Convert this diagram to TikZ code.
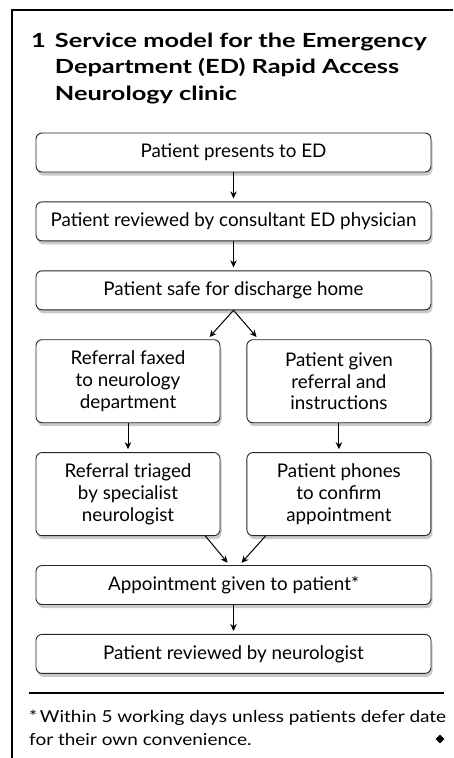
\documentclass[tikz,border=0pt]{standalone}
\usepackage{fontspec}
\setmainfont{Lato}
\newfontfamily\titelfont[FakeStretch=1.3]{Lato}
\newfontfamily\notefont[FakeStretch=1.15]{Lato}
\usetikzlibrary{positioning,shadows,arrows.meta,shapes.geometric}

\begin{document}
\begin{tikzpicture}[x=1pt, y=-1pt, node distance=29pt, font=\fontsize{18.8}{21.7}\selectfont]

\tikzstyle{boks}=[rectangle, rounded corners=6pt, draw=black!85, line width=0.9pt, fill=white, minimum width=395pt, minimum height=39pt, text centered, drop shadow={shadow xshift=1.5pt, shadow yshift=-3.5pt, opacity=0.3, fill=black!70}]
\tikzstyle{halvboks}=[boks, minimum width=184pt, minimum height=83pt, align=center]
\tikzstyle{pil}=[-{Stealth[length=7pt, width=6.5pt]}, line width=1pt, shorten >=3pt]
\tikzstyle{kant}=[line width=2pt]

\useasboundingbox (0,0) rectangle (453,758);

%frame
\draw[kant] (12,758) -- (12,10) -- (453,10);

\node[anchor=base west, inner sep=0pt, font=\titelfont\fontsize{19.5}{26.5}\bfseries\selectfont] (tittel) at (31,47)
  {\begin{tabular}[t]{@{}l@{\hspace{9pt}}l@{}}
   1 & Service model for the Emergency\\
     & Department (ED) Rapid Access\\
     & Neurology clinic
   \end{tabular}};

\node[boks] (presents) at (233.5,152.5) {Patient presents to ED};
\node[boks, below=of presents] (consult) {Patient reviewed by consultant ED physician};
\node[boks, below=of consult] (discharge) {Patient safe for discharge home};

\node[halvboks, below=of discharge.south west, anchor=north west] (faxed) {Referral faxed\\to neurology\\department};
\node[halvboks, right=26pt of faxed] (given) {Patient given\\referral and\\instructions};
\node[halvboks, below=of faxed] (triaged) {Referral triaged\\by specialist\\neurologist};
\node[halvboks, below=of given] (phones) {Patient phones\\to confirm\\appointment};

\node[boks, below=of triaged.south west, anchor=north west] (appoint) {Appointment given to patient*};
\node[boks, below=of appoint] (neuro) {Patient reviewed by neurologist};

\draw[pil] (presents) -- (consult);
\draw[pil] (consult) -- (discharge);
\draw[pil] (discharge.south) -- ([xshift=-26pt]discharge.south |- faxed.north);
\draw[pil] (discharge.south) -- ([xshift=25pt]discharge.south |- given.north);
\draw[pil] (faxed) -- (triaged);
\draw[pil] (given) -- (phones);
\draw[pil] ([xshift=-15pt]triaged.south east) -- ([xshift=-4pt]appoint.north);
\draw[pil] ([xshift=19pt]phones.south west) -- ([xshift=6pt]appoint.north);
\draw[pil] (appoint) -- (neuro);

%footnote
\draw[line width=1.5pt] (29,693) -- (444,693);
\node[anchor=base west, inner sep=0pt, font=\notefont\fontsize{16.5}{23}\selectfont] (fotnote) at (29,722)
  {\begin{tabular}[t]{@{}l@{}}
   *\,Within 5 working days unless patients defer date\\
   for their own convenience.
   \end{tabular}};
\node[diamond, fill=black, inner sep=0pt, minimum size=9pt] (ruter) at (440,739) {};

\end{tikzpicture}
\end{document}
